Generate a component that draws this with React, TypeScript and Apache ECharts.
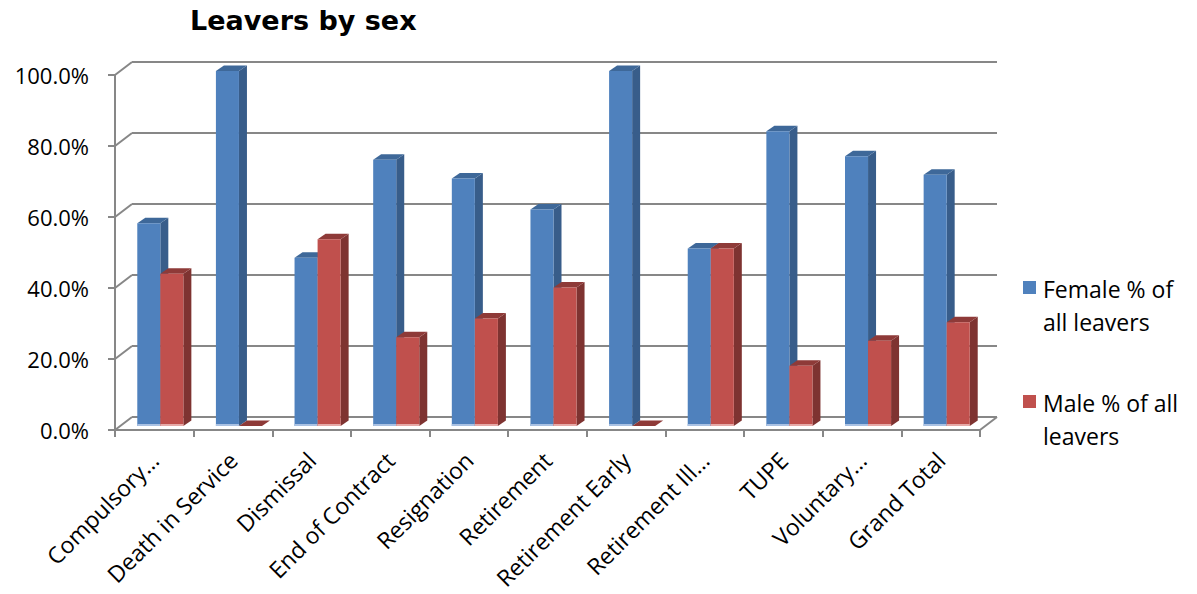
import { useEffect, useRef } from "react";
import * as echarts from "echarts";

// Leaver reasons and each sex's share of leavers (%)
const categories = [
  "Compulsory…",
  "Death in Service",
  "Dismissal",
  "End of Contract",
  "Resignation",
  "Retirement",
  "Retirement Early",
  "Retirement Ill…",
  "TUPE",
  "Voluntary…",
  "Grand Total",
];
const femaleShare = [57.1, 100, 47.4, 75.0, 69.7, 61.0, 100, 50.0, 83.0, 76.0, 70.8];
const maleShare = [42.9, 0, 52.6, 25.0, 30.3, 39.0, 0, 50.0, 17.0, 24.0, 29.2];
const seriesNames = ["Female % of all leavers", "Male % of all leavers"];
const legendLines = [
  ["Female % of", "all leavers"],
  ["Male % of all", "leavers"],
];
const yTicks = [0, 20, 40, 60, 80, 100];

// 3D look: depth of the walls and of the bars
const WALL_DX = 17;
const WALL_DY = 13;
const BAR_SHIFT_X = 6;
const BAR_SHIFT_Y = 4;
const BAR_DX = 8;
const BAR_DY = 5.5;
const BAR_FRAC = 0.293;

const GRID_LEFT = 115;
const GRID_TOP = 75;
const GRID_W = 865;
const GRID_H = 355;

const palettes = [
  { front: "#4F81BD", side: "#385D8A", top: "#3E6899", glow: "#A9C1E3" },
  { front: "#C0504D", side: "#7E3331", top: "#8E3A38", glow: "#E6AAA8" },
];

const AXIS_GREY = "#878787";
const LABEL_FONT = "Open Sans";

function barRenderer(side: number) {
  const pal = palettes[side];
  return (params: any, api: any) => {
    const i = api.value(0);
    const v = api.value(1);
    const band = api.size([1, 0])[0];
    const w = band * BAR_FRAC;
    const [cx, yTop] = api.coord([i, v]);
    const yBase = api.coord([i, 0])[1];
    const x0 = cx + BAR_SHIFT_X - (side === 0 ? w : 0);
    const x1 = x0 + w;
    const top = yTop - BAR_SHIFT_Y;
    const bot = yBase - BAR_SHIFT_Y;
    const children: any[] = [
      {
        type: "polygon",
        shape: {
          points: [
            [x1, top],
            [x1 + BAR_DX, top - BAR_DY],
            [x1 + BAR_DX, bot - BAR_DY],
            [x1, bot],
          ],
        },
        style: { fill: pal.side },
      },
      {
        type: "polygon",
        shape: {
          points: [
            [x0, top],
            [x1, top],
            [x1 + BAR_DX, top - BAR_DY],
            [x0 + BAR_DX, top - BAR_DY],
          ],
        },
        style: { fill: pal.top },
      },
    ];
    if (bot - top > 0.5) {
      children.push({
        type: "rect",
        shape: { x: x0, y: top, width: w, height: bot - top },
        style: { fill: pal.front },
      });
      children.push({
        type: "rect",
        shape: { x: x0, y: bot - 2, width: w, height: 2 },
        style: { fill: pal.glow },
      });
    }
    return { type: "group", children };
  };
}

// Side-wall gridlines joining the front axis to the back wall
function wallRenderer(params: any, api: any) {
  const v = api.value(1);
  const cs = params.coordSys;
  const y = api.coord([0, v])[1];
  const lineStyle = { stroke: AXIS_GREY, lineWidth: 2 };
  const children: any[] = [
    {
      type: "line",
      shape: { x1: cs.x, y1: y, x2: cs.x + WALL_DX, y2: y - WALL_DY },
      style: lineStyle,
    },
  ];
  if (v === 0) {
    children.push({
      type: "line",
      shape: {
        x1: cs.x + cs.width,
        y1: y,
        x2: cs.x + cs.width + WALL_DX,
        y2: y - WALL_DY,
      },
      style: lineStyle,
    });
  }
  return { type: "group", children };
}

export default function App() {
  const ref = useRef<HTMLDivElement>(null);

  useEffect(() => {
    if (!ref.current) return;
    const chart = echarts.init(ref.current, undefined, { renderer: "svg" });

    const legendGraphics: any[] = [];
    const legendTops = [272, 386];
    legendLines.forEach((lines, k) => {
      legendGraphics.push({
        type: "rect",
        left: 1023,
        top: legendTops[k] + 9,
        shape: { width: 13, height: 13 },
        style: { fill: palettes[k].front },
        silent: true,
      });
      legendGraphics.push({
        type: "text",
        left: 1043,
        top: legendTops[k],
        style: {
          text: lines.join("\n"),
          fill: "#000",
          fontFamily: LABEL_FONT,
          fontSize: 23,
          lineHeight: 33,
        },
        silent: true,
      });
    });

    chart.setOption({
      animation: false,
      backgroundColor: "#fff",
      title: {
        text: "Leavers by sex",
        left: 190,
        top: 7,
        padding: 0,
        textStyle: {
          fontFamily: "DejaVu Sans",
          fontWeight: "bold",
          fontSize: 27,
          color: "#000",
        },
      },
      grid: [
        { left: GRID_LEFT, top: GRID_TOP, width: GRID_W, height: GRID_H },
        {
          left: GRID_LEFT + WALL_DX,
          top: GRID_TOP - WALL_DY,
          width: GRID_W,
          height: GRID_H,
        },
      ],
      xAxis: [
        {
          type: "category",
          gridIndex: 0,
          data: categories,
          boundaryGap: true,
          axisLine: { show: true, lineStyle: { color: AXIS_GREY, width: 2 } },
          axisTick: {
            show: true,
            length: 7,
            alignWithLabel: false,
            lineStyle: { color: AXIS_GREY, width: 2 },
          },
          axisLabel: {
            rotate: 45,
            margin: 26,
            interval: 0,
            color: "#000",
            fontFamily: LABEL_FONT,
            fontSize: 23,
          },
          splitLine: { show: false },
        },
        {
          type: "category",
          gridIndex: 1,
          data: categories,
          show: false,
        },
      ],
      yAxis: [
        {
          type: "value",
          gridIndex: 0,
          min: 0,
          max: 100,
          interval: 20,
          axisLine: { show: true, lineStyle: { color: AXIS_GREY, width: 2 } },
          axisTick: {
            show: true,
            length: 7,
            lineStyle: { color: AXIS_GREY, width: 2 },
          },
          axisLabel: {
            margin: 26,
            color: "#000",
            fontFamily: LABEL_FONT,
            fontSize: 22,
            padding: [6, 0, 0, 0],
            formatter: (v: number) => v.toFixed(1) + "%",
          },
          splitLine: { show: false },
        },
        {
          type: "value",
          gridIndex: 1,
          min: 0,
          max: 100,
          interval: 20,
          axisLine: { show: false },
          axisTick: { show: false },
          axisLabel: { show: false },
          splitLine: { show: true, lineStyle: { color: AXIS_GREY, width: 2 } },
        },
      ],
      series: [
        {
          type: "custom",
          name: "wall",
          xAxisIndex: 0,
          yAxisIndex: 0,
          silent: true,
          renderItem: wallRenderer,
          data: yTicks.map((v) => [0, v]),
          encode: { x: 0, y: 1 },
          z: 1,
        },
        {
          type: "custom",
          name: seriesNames[0],
          xAxisIndex: 0,
          yAxisIndex: 0,
          renderItem: barRenderer(0),
          data: femaleShare.map((v, i) => [i, v]),
          encode: { x: 0, y: 1 },
          z: 3,
        },
        {
          type: "custom",
          name: seriesNames[1],
          xAxisIndex: 0,
          yAxisIndex: 0,
          renderItem: barRenderer(1),
          data: maleShare.map((v, i) => [i, v]),
          encode: { x: 0, y: 1 },
          z: 4,
        },
      ],
      graphic: legendGraphics,
    });

    return () => chart.dispose();
  }, []);

  return (
    <div
      ref={ref}
      style={{ position: "absolute", left: 0, top: 0, width: 1197, height: 594 }}
    />
  );
}
